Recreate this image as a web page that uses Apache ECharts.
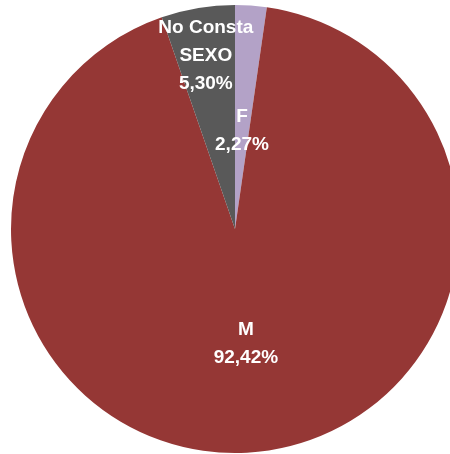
<!DOCTYPE html>
<html>
<head>
<meta charset="utf-8">
<script src="https://cdn.jsdelivr.net/npm/echarts@6/dist/echarts.min.js"></script>
<style>
  html, body { margin: 0; padding: 0; background: #fff; }
  #chart { width: 450px; height: 454px; }
</style>
</head>
<body>
<div id="chart"></div>
<script>
const categories = ["F", "M", "No Consta\nSEXO"];
const values = [2.27, 92.42, 5.30];
const colors = ["#B3A2C7", "#953735", "#595959"];

const fmt = (v) => v.toFixed(2).replace(".", ",") + "%";

const labelStyle = {
  color: "#fff",
  fontFamily: "Liberation Sans",
  fontWeight: "bold",
  fontSize: 19,
  lineHeight: 28,
  formatter: (p) => p.name + "\n" + fmt(p.value)
};

// which slice gets its label from which layer
function pieData(showIdx, filled) {
  return categories.map((name, i) => ({
    name,
    value: values[i],
    itemStyle: { color: filled ? colors[i] : "transparent" },
    label: { show: i === showIdx }
  }));
}

const base = {
  type: "pie",
  center: [235, 229],
  startAngle: 90,
  clockwise: true,
  animation: false,
  labelLine: { show: false },
  emphasis: { disabled: true }
};

const chart = echarts.init(document.getElementById("chart"), null, { renderer: "canvas" });
chart.setOption({
  backgroundColor: "#fff",
  series: [
    Object.assign({}, base, {
      radius: [0, 224],
      label: Object.assign({ position: "inside" }, labelStyle),
      data: pieData(1, true)
    }),
    Object.assign({}, base, {
      radius: [0, 190],
      silent: true,
      label: Object.assign({ position: "inside" }, labelStyle),
      data: pieData(0, false)
    }),
    Object.assign({}, base, {
      radius: [0, 346],
      silent: true,
      label: Object.assign({ position: "inside" }, labelStyle),
      data: pieData(2, false)
    })
  ]
});
</script>
</body>
</html>
